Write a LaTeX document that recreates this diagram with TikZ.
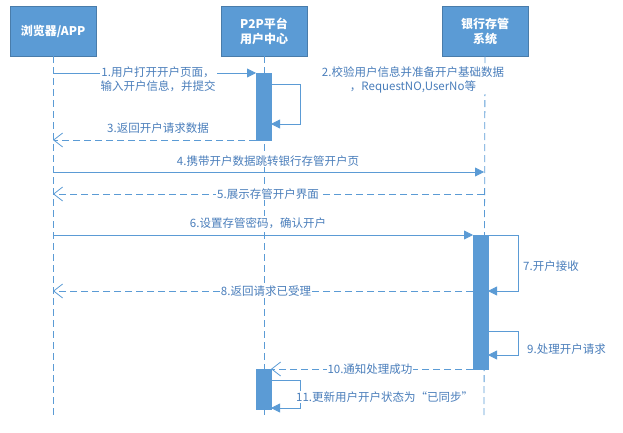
\documentclass[tikz,border=0pt]{standalone}
\usepackage{fontspec}
\setmainfont{Noto Sans CJK SC}
\usetikzlibrary{arrows.meta}
\definecolor{bl}{HTML}{5B9BD5}
\definecolor{tx}{HTML}{4A7EBB}
\tikzset{
  hdr/.style={draw=bl!80!black, fill=bl, text=white, font=\bfseries\fontsize{12}{15}\selectfont, minimum width=86pt, minimum height=50pt, align=center, inner sep=1pt},
  life/.style={bl, dashed, dash pattern=on 7pt off 4pt, line width=0.8pt},
  act/.style={fill=bl, draw=bl},
  msg/.style={bl, line width=0.8pt, -{Triangle[length=9pt,width=9pt]}},
  ret/.style={bl, line width=0.8pt, dash pattern=on 7pt off 4pt, -{Straight Barb[length=9pt,width=14pt]}},
  lbl/.style={fill=white, text=tx, font=\fontsize{11.5}{14}\selectfont, inner sep=1pt, align=center},
}
\begin{document}
\begin{tikzpicture}[x=1pt,y=-1pt]
  \useasboundingbox (0,0) rectangle (623,433);
  % participants
  \node[hdr] (b) at (53,31) {浏览器/APP};
  \node[hdr] (p) at (264,31) {P2P平台\\用户中心};
  \node[hdr] (k) at (485,31) {银行存管\\系统};
  \coordinate (bE) at (53,415);
  \coordinate (pE) at (264,415);
  \coordinate (kE) at (484,415);
  \draw[life] (b.south) -- (bE);
  \draw[life] (p.south) -- (pE);
  \draw[life] (k.south) -- (kE);
  % activations
  \filldraw[act] (256,73) rectangle (271,140);
  \filldraw[act] (473,235) rectangle (488,369);
  \filldraw[act] (256,369) rectangle (271,409);
  % anchors for messages
  \coordinate (m1a) at (53,73);  \coordinate (m1b) at (256,73);
  \coordinate (l2a) at (271,84); \coordinate (l2b) at (300,84);
  \coordinate (l2c) at (300,124); \coordinate (l2d) at (271,124);
  \coordinate (m3a) at (256,140); \coordinate (m3b) at (53,140);
  \coordinate (m4a) at (53,172); \coordinate (m4b) at (484,172);
  \coordinate (m5a) at (484,194); \coordinate (m5b) at (53,194);
  \coordinate (m6a) at (53,235); \coordinate (m6b) at (473,235);
  \coordinate (l7a) at (488,235); \coordinate (l7b) at (518,235);
  \coordinate (l7c) at (518,291); \coordinate (l7d) at (488,291);
  \coordinate (m8a) at (473,291); \coordinate (m8b) at (53,291);
  \coordinate (l9a) at (488,331); \coordinate (l9b) at (518,331);
  \coordinate (l9c) at (518,355); \coordinate (l9d) at (488,355);
  \coordinate (m10a) at (473,369); \coordinate (m10b) at (271,369);
  \coordinate (l11a) at (271,380); \coordinate (l11b) at (300,380);
  \coordinate (l11c) at (300,408); \coordinate (l11d) at (271,408);
  % messages
  \draw[msg] (m1a) -- (m1b);
  \node[lbl] at (158,79) {1.用户打开开户页面，\\输入开户信息，并提交};
  \draw[msg] (l2a) -- (l2b) -- (l2c) -- (l2d);
  \node[lbl] at (413,80) {2.校验用户信息并准备开户基础数据\\，RequestNO,UserNo等};
  \draw[ret] (m3a) -- (m3b);
  \node[lbl] at (158,128) {3.返回开户请求数据};
  \draw[msg] (m4a) -- (m4b);
  \node[lbl] at (268,161) {4.携带开户数据跳转银行存管开户页};
  \draw[ret] (m5a) -- (m5b);
  \node[lbl] at (268,194) {5.展示存管开户界面};
  \draw[msg] (m6a) -- (m6b);
  \node[lbl] at (258,223) {6.设置存管密码，确认开户};
  \draw[msg] (l7a) -- (l7b) -- (l7c) -- (l7d);
  \node[lbl, anchor=west] at (522,266) {7.开户接收};
  \draw[ret] (m8a) -- (m8b);
  \node[lbl] at (266,291) {8.返回请求已受理};
  \draw[msg] (l9a) -- (l9b) -- (l9c) -- (l9d);
  \node[lbl, anchor=west] at (526,349) {9.处理开户请求};
  \draw[ret] (m10a) -- (m10b);
  \node[lbl] at (370,369) {10.通知处理成功};
  \draw[msg] (l11a) -- (l11b) -- (l11c) -- (l11d);
  \node[lbl, anchor=west] at (295,397) {11.更新用户开户状态为“已同步”};
\end{tikzpicture}
\end{document}
